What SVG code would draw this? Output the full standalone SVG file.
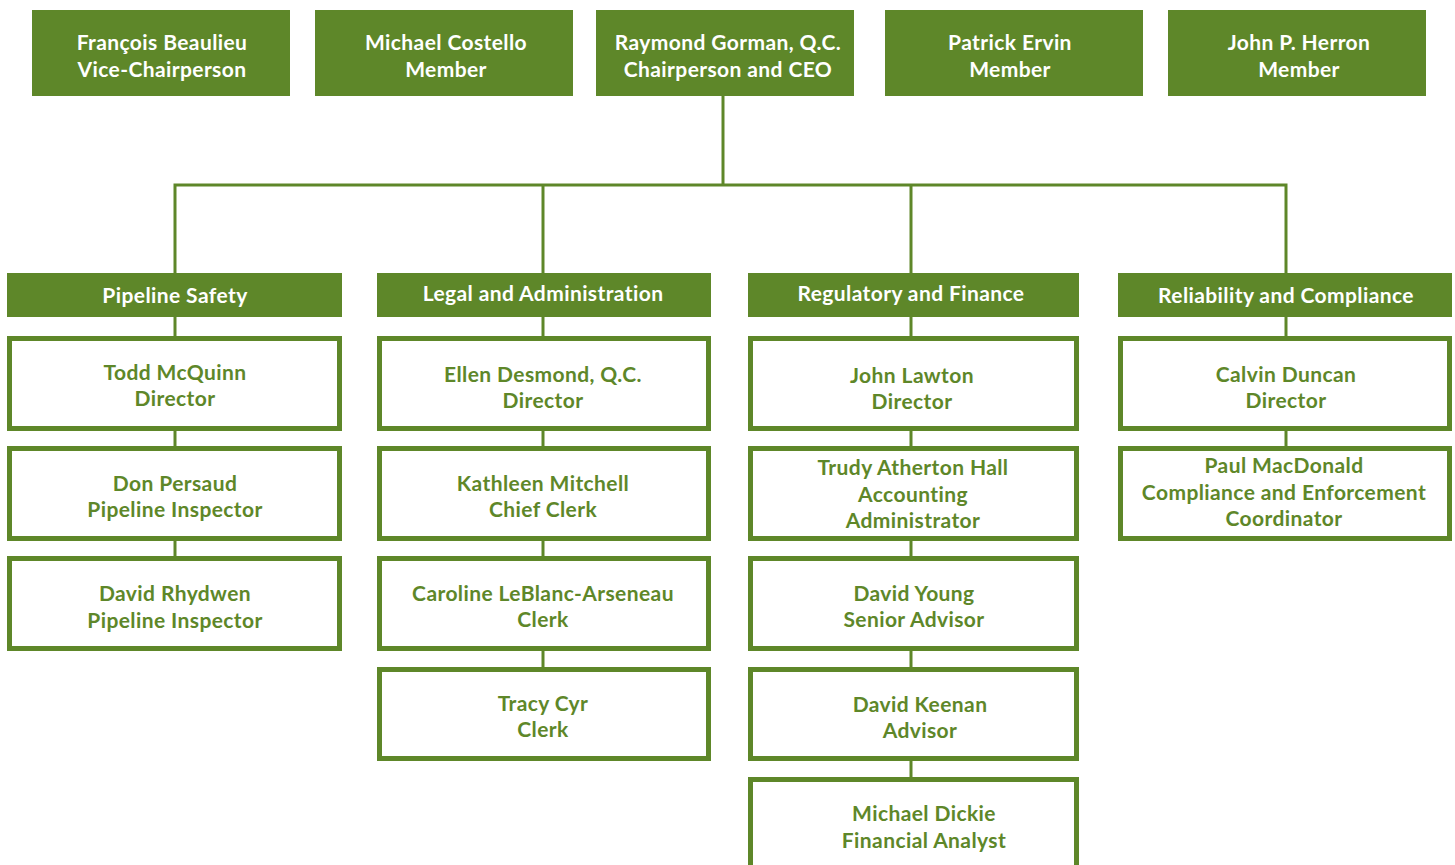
<svg xmlns="http://www.w3.org/2000/svg" width="1455" height="865" viewBox="0 0 1455 865">
<style>
.top{fill:#5e8729}
.hdr{fill:#5e8729}
.box{fill:#fff;stroke:#5e8729;stroke-width:5}
.conn{stroke:#5e8729;stroke-width:3;fill:none}
text{font-family:"Lato","Open Sans",sans-serif;font-weight:700;font-size:21px;letter-spacing:0.4px;text-anchor:middle}
.w{fill:#fff}
.g{fill:#5e8729}
</style>
<rect width="1455" height="865" fill="#fff"/>
<g id="connectors">
<line class="conn" x1="723" y1="96" x2="723" y2="185"/>
<polyline class="conn" points="175,273 175,185 1286,185 1286,273"/>
<line class="conn" x1="543" y1="185" x2="543" y2="273"/>
<line class="conn" x1="911" y1="185" x2="911" y2="273"/>
<line class="conn" x1="175" y1="317" x2="175" y2="556"/>
<line class="conn" x1="543" y1="317" x2="543" y2="667"/>
<line class="conn" x1="911" y1="317" x2="911" y2="777"/>
<line class="conn" x1="1286" y1="317" x2="1286" y2="446"/>
</g>
<g id="n-beaulieu"><rect class="top" x="32" y="10" width="258" height="86"/><text class="w" x="162" y="50">François Beaulieu</text><text class="w" x="162" y="77">Vice-Chairperson</text></g>
<g id="n-costello"><rect class="top" x="315" y="10" width="258" height="86"/><text class="w" x="446" y="50">Michael Costello</text><text class="w" x="446" y="77">Member</text></g>
<g id="n-gorman"><rect class="top" x="596" y="10" width="258" height="86"/><text class="w" x="728" y="50">Raymond Gorman, Q.C.</text><text class="w" x="728" y="77">Chairperson and CEO</text></g>
<g id="n-ervin"><rect class="top" x="885" y="10" width="258" height="86"/><text class="w" x="1010" y="50">Patrick Ervin</text><text class="w" x="1010" y="77">Member</text></g>
<g id="n-herron"><rect class="top" x="1168" y="10" width="258" height="86"/><text class="w" x="1299" y="50">John P. Herron</text><text class="w" x="1299" y="77">Member</text></g>

<g id="d-pipeline"><rect class="hdr" x="7" y="273" width="335" height="44"/><text class="w" x="175" y="303">Pipeline Safety</text></g>
<g id="d-legal"><rect class="hdr" x="377" y="273" width="334" height="44"/><text class="w" x="543" y="301">Legal and Administration</text></g>
<g id="d-regulatory"><rect class="hdr" x="748" y="273" width="331" height="44"/><text class="w" x="911" y="301">Regulatory and Finance</text></g>
<g id="d-reliability"><rect class="hdr" x="1118" y="273" width="334" height="44"/><text class="w" x="1286" y="303">Reliability and Compliance</text></g>

<g id="p-mcquinn"><rect class="box" x="9.5" y="338.5" width="330" height="90"/><text class="g" x="175" y="380">Todd McQuinn</text><text class="g" x="175" y="406">Director</text></g>
<g id="p-persaud"><rect class="box" x="9.5" y="448.5" width="330" height="90"/><text class="g" x="175" y="491">Don Persaud</text><text class="g" x="175" y="517">Pipeline Inspector</text></g>
<g id="p-rhydwen"><rect class="box" x="9.5" y="558.5" width="330" height="90"/><text class="g" x="175" y="601">David Rhydwen</text><text class="g" x="175" y="628">Pipeline Inspector</text></g>

<g id="p-desmond"><rect class="box" x="379.5" y="338.5" width="329" height="90"/><text class="g" x="543" y="382">Ellen Desmond, Q.C.</text><text class="g" x="543" y="408">Director</text></g>
<g id="p-mitchell"><rect class="box" x="379.5" y="448.5" width="329" height="90"/><text class="g" x="543" y="491">Kathleen Mitchell</text><text class="g" x="543" y="517">Chief Clerk</text></g>
<g id="p-leblanc"><rect class="box" x="379.5" y="558.5" width="329" height="90"/><text class="g" x="543" y="601">Caroline LeBlanc-Arseneau</text><text class="g" x="543" y="627">Clerk</text></g>
<g id="p-cyr"><rect class="box" x="379.5" y="669.5" width="329" height="89"/><text class="g" x="543" y="711">Tracy Cyr</text><text class="g" x="543" y="737">Clerk</text></g>

<g id="p-lawton"><rect class="box" x="750.5" y="338.5" width="326" height="90"/><text class="g" x="912" y="383">John Lawton</text><text class="g" x="912" y="409">Director</text></g>
<g id="p-hall"><rect class="box" x="750.5" y="448.5" width="326" height="90"/><text class="g" x="913" y="475">Trudy Atherton Hall</text><text class="g" x="913" y="502">Accounting</text><text class="g" x="913" y="528">Administrator</text></g>
<g id="p-young"><rect class="box" x="750.5" y="558.5" width="326" height="90"/><text class="g" x="914" y="601">David Young</text><text class="g" x="914" y="627">Senior Advisor</text></g>
<g id="p-keenan"><rect class="box" x="750.5" y="669.5" width="326" height="89"/><text class="g" x="920" y="712">David Keenan</text><text class="g" x="920" y="738">Advisor</text></g>
<g id="p-dickie"><rect class="box" x="750.5" y="779.5" width="326" height="100"/><text class="g" x="924" y="821">Michael Dickie</text><text class="g" x="924" y="848">Financial Analyst</text></g>

<g id="p-duncan"><rect class="box" x="1120.5" y="338.5" width="329" height="90"/><text class="g" x="1286" y="382">Calvin Duncan</text><text class="g" x="1286" y="408">Director</text></g>
<g id="p-macdonald"><rect class="box" x="1120.5" y="448.5" width="329" height="90"/><text class="g" x="1284" y="473">Paul MacDonald</text><text class="g" x="1284" y="500">Compliance and Enforcement</text><text class="g" x="1284" y="526">Coordinator</text></g>
</svg>
